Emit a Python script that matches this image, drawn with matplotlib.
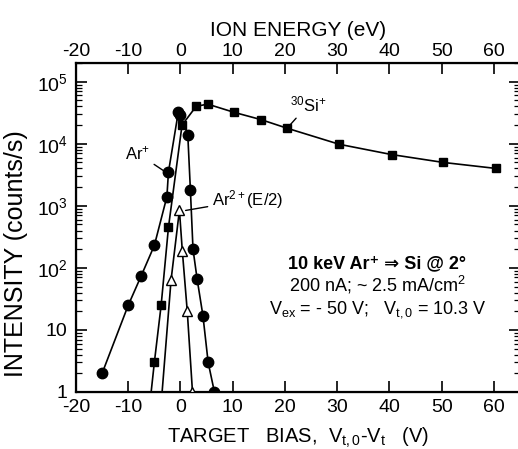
import matplotlib
matplotlib.use("Agg")
import matplotlib.pyplot as plt
from matplotlib.ticker import FixedLocator, FixedFormatter, LogLocator, NullFormatter

plt.rcParams['font.family'] = ['Liberation Sans', 'DejaVu Sans']
plt.rcParams['axes.unicode_minus'] = False
plt.rcParams['mathtext.fontset'] = 'custom'
plt.rcParams['mathtext.rm'] = 'Liberation Sans'
plt.rcParams['mathtext.it'] = 'Liberation Sans'
plt.rcParams['mathtext.bf'] = 'Liberation Sans:bold'

# Ar+ (filled circles)
ar_bias = [-15, -10, -7.5, -5, -2.6, -2.3, -0.4, 0.0, 1.4, 1.9, 2.4, 3.2, 4.3, 5.3, 6.5]
ar_int = [2, 25, 75, 230, 1400, 3500, 33000, 29000, 14000, 1800, 200, 65, 17, 3, 1]

# 30Si+ (filled squares); first value lies below the plotted range
si_bias = [-6.0, -5.0, -3.7, -2.3, 0.3, 3.0, 5.2, 10.3, 15.4, 20.4, 30.4, 40.4, 50.3, 60.4]
si_int = [0.5, 3, 25, 450, 20000, 40000, 43500, 32000, 24500, 17800, 9800, 6700, 5000, 4000]

# Ar2+ (E/2) (open triangles); first value lies below the plotted range
ar2_bias = [-3.8, -1.8, -0.2, 0.35, 1.3, 2.3]
ar2_int = [0.5, 64, 850, 190, 20, 1]

xticks = [-20, -10, 0, 10, 20, 30, 40, 50, 60]
yticks = [1, 10, 100, 1000, 10000, 100000]
ylabels = ['1', '10', '$10^2$', '$10^3$', '$10^4$', '$10^5$']

fig = plt.figure(figsize=(5.18, 4.49), dpi=100)
ax = fig.add_axes([76 / 518, 57 / 449, 444 / 518, 329 / 449])

ax.plot(ar_bias, ar_int, '-o', color='black', lw=1.2, ms=7.5, zorder=3)
ax.plot(si_bias, si_int, '-s', color='black', lw=1.2, ms=5.5, zorder=3)
ax.plot(ar2_bias, ar2_int, '-^', color='black', lw=1.2, ms=7, mfc='white', mew=1.0, zorder=4)

ax.set_yscale('log')
ax.set_xlim(-20, 65)
ax.set_ylim(1, 2e5)

ax.xaxis.set_major_locator(FixedLocator(xticks))
ax.yaxis.set_major_locator(FixedLocator(yticks))
ax.yaxis.set_major_formatter(FixedFormatter(ylabels))
ax.yaxis.set_minor_locator(LogLocator(base=10, subs=range(2, 10)))
ax.yaxis.set_minor_formatter(NullFormatter())

ax.tick_params(axis='both', which='major', direction='in', length=8, width=1.2,
               labelsize=14, right=True)
ax.tick_params(axis='y', which='major', pad=6)
ax.tick_params(axis='y', which='minor', direction='in', length=4, width=0.9, right=True)
ax.tick_params(axis='x', which='major', pad=5)
for s in ax.spines.values():
    s.set_linewidth(1.6)

ax.set_xlabel('TARGET   BIAS,  V$_{t,0}$-V$_t$   (V)', fontsize=14.5, labelpad=7)
ax.set_ylabel('INTENSITY (counts/s)', fontsize=18)
ax.yaxis.set_label_coords(-0.108, 0.42)

top = ax.twiny()
top.set_xlim(ax.get_xlim())
top.xaxis.set_major_locator(FixedLocator(xticks))
top.tick_params(axis='x', direction='in', length=8, width=1.2, labelsize=14, pad=2)
top.set_xlabel('ION ENERGY (eV)', fontsize=15, labelpad=5)

# annotations
ax.annotate('Ar$^{+}$', xy=(-2.4, 3300), xytext=(-8.2, 7000), fontsize=12,
            ha='center', va='center',
            arrowprops=dict(arrowstyle='-', color='black', lw=1.0, shrinkA=1, shrinkB=4))
ax.annotate('$^{30}$Si$^{+}$', xy=(20.6, 18500), xytext=(24.5, 43000), fontsize=12,
            ha='center', va='center',
            arrowprops=dict(arrowstyle='-', color='black', lw=1.0, shrinkA=1, shrinkB=2))
ax.annotate('Ar$^{2+}$(E/2)', xy=(0.2, 820), xytext=(6.0, 1250), fontsize=12,
            ha='left', va='center',
            arrowprops=dict(arrowstyle='-', color='black', lw=1.0, shrinkA=1, shrinkB=3))

ax.text(0.677, 0.390, '10 keV Ar\u207a \u21d2 Si @ 2\u00b0', transform=ax.transAxes,
        fontsize=13, fontweight='bold', ha='center', va='center',
        family=['Liberation Sans', 'DejaVu Sans'])
ax.text(0.68, 0.326, '200 nA; ~ 2.5 mA/cm$^2$', transform=ax.transAxes,
        fontsize=13, ha='center', va='center')
ax.text(0.68, 0.250, 'V$_{ex}$ = - 50 V;   V$_{t,0}$ = 10.3 V', transform=ax.transAxes,
        fontsize=13, ha='center', va='center')

fig.savefig('out.png', dpi=100)
